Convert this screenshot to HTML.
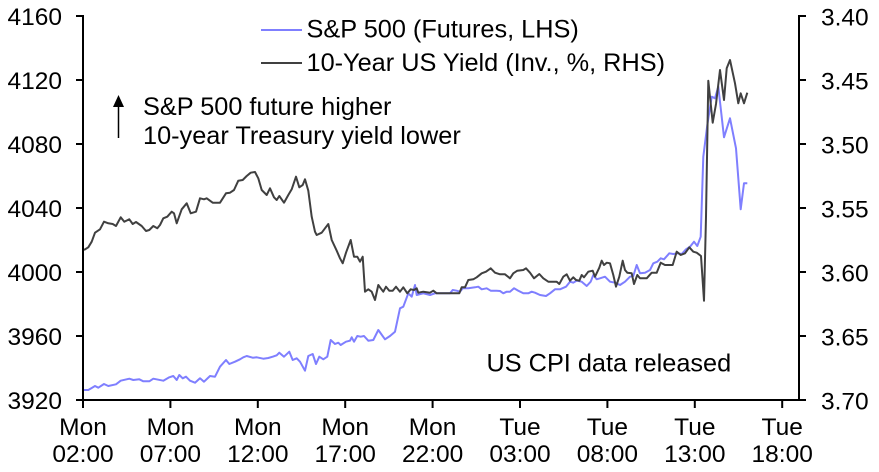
<!DOCTYPE html>
<html><head><meta charset="utf-8"><style>
html,body{margin:0;padding:0;background:#fff;}
svg{display:block;}
text{font-family:"Liberation Sans",Arial,sans-serif;font-size:24.5px;fill:#000;}
text.big{font-size:25.3px;}
</style></head><body>
<svg width="879" height="472" viewBox="0 0 879 472" xmlns="http://www.w3.org/2000/svg">
<!-- series -->
<polyline fill="none" stroke="#7f7fff" stroke-width="2" stroke-linejoin="round" points="
84,390 88.3,390 91.7,388 95,386 98.3,387.7 104,384 108.3,386 116,384.3 120.7,380.7 129.3,378.7 133.3,380 139.3,379.3 143.3,381.3 149.3,381.3 153.3,378.7 163.3,380.7 169.3,377.3 173.3,376 176.7,380 179.3,375 182.7,378.3 186,376.7 190,380.7 195,382.7 200,378.3 204,381.7 210,376 215,376.7 220,366.7 226,360 229.3,364 235,361.7 240,359.3 243.3,357.3 246.7,356 252.7,357.7 256.7,357.3 263.3,358.7 268.3,358 272.7,356.7 276.7,355.3 279.3,352.7 284,356.7 289.3,351.7 292.7,360 296.7,358.3 300,361.7 305,370.7 308.3,356 312.7,354 316,364 319.3,356.7 323.3,359.3 327.3,356.7 330.7,340 335,344 338.3,342.7 340.7,345 346,341.7 350,340.7 351.7,337.3 354,341.7 357.3,336 360.7,336.7 364,336 368.3,340.7 373.3,340 378.3,330 385,339.3 390,336 395,331.7 400,308.3 403.3,306.7 408.3,293.3 411.7,296.7 415,285 416.7,295 423.3,293.3 430,295 435,293.3 450,293.3 452.7,290 456.7,290.7 460,291.7 462.7,288.3 468.3,288.3 475,287.3 478.3,286.7 481.7,289.3 486.7,288.3 490.7,290.7 496.7,290.7 500,291 503.3,293.3 506.7,291.7 510,291.7 514,288.3 518.3,290.7 523.3,293.3 528.3,293.3 531.7,291.7 535,292.7 540,295 546,296 550,293.3 555,289.3 560,289.3 566,286.7 570,281.7 573.3,282.7 576.7,280.7 581.7,281.7 586.7,286 590.7,281.7 593.3,275 596.7,279.3 600,278.3 605,276.7 610,281.7 615,282.7 620,285 625,281.7 630,276.7 633.3,276 636.7,265 640,273.3 645,272.7 650,270 653.3,263.3 657.3,261.7 660.7,258.3 664,259.3 669.3,253.3 673.3,254 677.3,253.3 681.7,254 686,249.3 690,246.7 694,241.7 697.3,246 700.7,236.7 703.3,156.7 707.3,125 711.7,96.7 715,98.3 718.3,86.7 724,137.3 730,118.3 736,148.3 740.7,209.3 744,183.3 747.3,183.3"/>
<polyline fill="none" stroke="#404040" stroke-width="2" stroke-linejoin="round" points="
84,250 88.3,247.3 91.7,241.7 95,232.7 100,229.3 104,221.7 108.3,223.3 112.7,224 116,226 120.7,217.3 124.3,221.7 129.3,219.3 132.7,224 136,222 141.7,226 146,231 149.3,230 153.3,226 157.3,228.3 160,225 163.3,218.3 167.3,216.7 171.7,211.7 174,213.3 176.7,223.3 181.7,209.3 186.7,203.3 190.7,213.3 196,211.7 200,198.3 204,199.3 206.7,198.3 212.7,202.7 220,202.7 226,193.3 230,192.7 234,190 238.3,180.7 242.7,180 246.7,176 250.7,172.7 255,172 258.3,178.3 261.7,190 266.7,195 270,188.3 274,197.3 276.7,200 279.3,196 284,202.7 288.3,195 291.7,189.3 296,176.7 299.3,187.3 302.7,185 305,179.3 308.3,190.7 311.7,216.7 315,231.7 316.7,235 321.7,232.7 325,228.3 328.3,224 331.7,240 336.7,250.7 340,258.3 342.7,263.3 346,252.7 350.7,240 354,256.7 357.3,256.7 360,261.7 362.7,256.7 365,291.7 368.3,289.3 371.7,291.7 375,300 378.3,285 380.7,288.3 383.3,291.7 386,286.7 389.3,290.7 392.7,290.7 396,286.7 400,291.7 403.3,287.3 407.3,293.3 410.7,289.3 414,290 416.7,288.3 418.3,292.7 423.3,291.7 430,292.7 433.3,290.7 436.7,293.3 459.3,293.3 461.7,287.3 465,287.3 468.3,280 473.3,279.3 476.7,277.3 481.7,273.3 486,271.7 490.7,268.3 495,272.7 500,274.3 505,274.3 510,278.3 513.3,273.3 517.3,270.7 523.3,270 526,268.3 530,272.7 534,278.3 539.3,274 543.3,278.3 548.3,281.7 556.7,281.7 559.3,284 563.3,276.7 566.7,274.3 570,280.7 573.3,277.3 576,280 579.3,280.7 581.7,275 584,277.3 588.3,271.7 592.7,270.7 595,276.7 599.3,267.7 601.7,260.7 604,265 606.7,262.7 610,263.3 613.3,275 616,286.7 619.3,276.7 622.7,260.7 625,270 627.3,272.7 631.7,273.3 634,284 637.3,275 640,278.3 646.7,278.3 651.7,272.7 656.7,272.7 660.7,262.7 665,265 672.7,265 676.7,251.7 680.7,255 685,253.3 689.3,247.3 693.3,251.7 696.7,252.7 701,256 704,300.7 706,216.7 708.3,80.7 712.7,122.7 716,104 720,70 724,100 726.7,68.3 730,60 735,83.3 738.3,103.3 740.7,93.3 744,103.3 747.3,92.7"/>
<!-- axes -->
<g stroke="#000" stroke-width="2" fill="none">
<line x1="83" y1="15" x2="83" y2="401"/>
<line x1="799" y1="15" x2="799" y2="401"/>
<line x1="82" y1="400" x2="800" y2="400"/>
<path d="M76,16H83M76,80H83M76,144H83M76,208H83M76,272H83M76,336H83M76,400H83"/>
<path d="M799,16H806M799,80H806M799,144H806M799,208H806M799,272H806M799,336H806M799,400H806"/>
<path d="M83,400V408M170.4,400V408M257.8,400V408M345.2,400V408M432.6,400V408M520,400V408M607.4,400V408M694.8,400V408M782.2,400V408"/>
</g>
<!-- left labels -->
<g text-anchor="end">
<text x="62" y="25">4160</text>
<text x="62" y="89">4120</text>
<text x="62" y="153">4080</text>
<text x="62" y="217">4040</text>
<text x="62" y="281">4000</text>
<text x="62" y="345">3960</text>
<text x="62" y="409">3920</text>
</g>
<!-- right labels -->
<g>
<text x="821" y="25.5">3.40</text>
<text x="821" y="89.5">3.45</text>
<text x="821" y="153.5">3.50</text>
<text x="821" y="217.5">3.55</text>
<text x="821" y="281.5">3.60</text>
<text x="821" y="345.5">3.65</text>
<text x="821" y="409.5">3.70</text>
</g>
<!-- x labels -->
<g text-anchor="middle">
<text x="83" y="435">Mon</text><text x="83" y="462">02:00</text>
<text x="170.4" y="435">Mon</text><text x="170.4" y="462">07:00</text>
<text x="257.8" y="435">Mon</text><text x="257.8" y="462">12:00</text>
<text x="345.2" y="435">Mon</text><text x="345.2" y="462">17:00</text>
<text x="432.6" y="435">Mon</text><text x="432.6" y="462">22:00</text>
<text x="520" y="435">Tue</text><text x="520" y="462">03:00</text>
<text x="607.4" y="435">Tue</text><text x="607.4" y="462">08:00</text>
<text x="694.8" y="435">Tue</text><text x="694.8" y="462">13:00</text>
<text x="782.2" y="435">Tue</text><text x="782.2" y="462">18:00</text>
</g>
<!-- legend -->
<line x1="261" y1="30" x2="302" y2="30" stroke="#7f7fff" stroke-width="2"/>
<line x1="261" y1="63" x2="302" y2="63" stroke="#404040" stroke-width="2"/>
<text class="big" x="306.5" y="37.5">S&amp;P 500 (Futures, LHS)</text>
<text class="big" x="306.5" y="71">10-Year US Yield (Inv., %, RHS)</text>
<!-- annotations -->
<line x1="118.5" y1="104" x2="118.5" y2="138" stroke="#000" stroke-width="1.5"/>
<polygon points="113,107 118.5,95 124,107" fill="#000"/>
<text class="big" x="143" y="115">S&amp;P 500 future higher</text>
<text class="big" x="143" y="144">10-year Treasury yield lower</text>
<text class="big" x="486.5" y="371.5">US CPI data released</text>
</svg>
</body></html>
